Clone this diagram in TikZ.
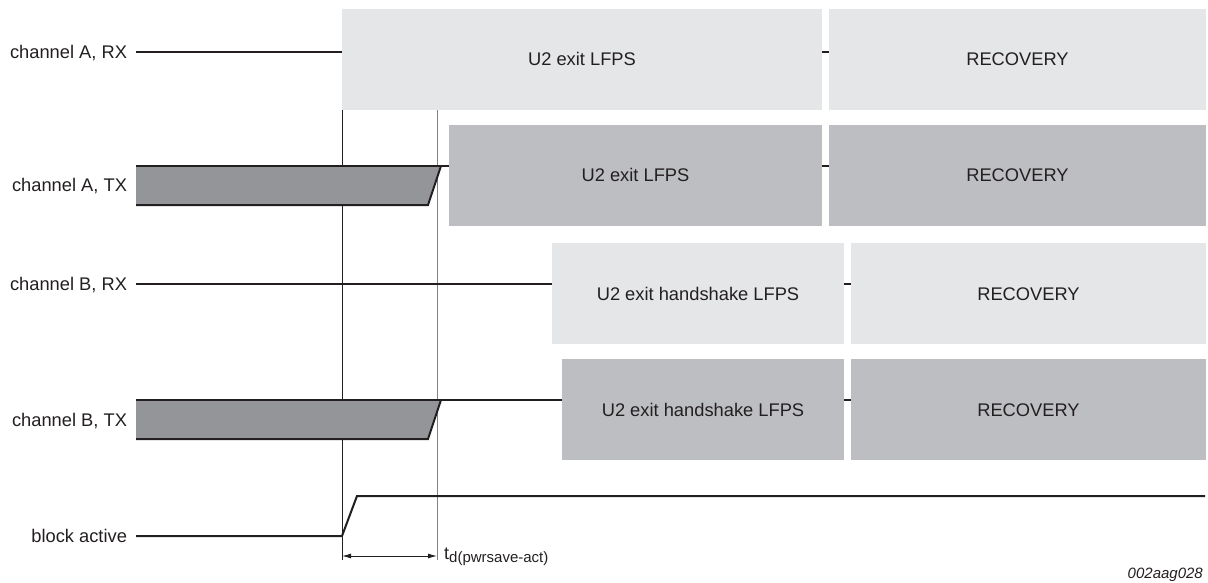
\documentclass[tikz,border=0pt]{standalone}
\usepackage{fontspec}
\setmainfont{Liberation Sans}
\usetikzlibrary{arrows.meta,calc}
\definecolor{lightbox}{HTML}{E5E6E7}
\definecolor{darkbox}{HTML}{BDBEC1}
\definecolor{trapfill}{HTML}{939598}
\definecolor{ink}{HTML}{231F20}
\definecolor{guide}{HTML}{808285}
\begin{document}
\begin{tikzpicture}[x=1pt,y=-1pt,
  >={Latex[length=9pt,width=5pt]},
  lab/.style={inner sep=0pt, outer xsep=9pt, text height=13pt, text depth=0pt, anchor=east,
    font=\fontsize{18.3}{20}\selectfont, text=ink},
  lbox/.style={fill=lightbox, inner sep=0pt, outer sep=0pt, anchor=north west, minimum height=101pt,
    text height=13pt, text depth=0pt, font=\fontsize{18.3}{20}\selectfont, text=ink},
  dbox/.style={lbox, fill=darkbox},
  sig/.style={draw=ink, line width=2pt, line join=miter},
  trap/.style={fill=trapfill},
  vline/.style={draw=ink, line width=1pt},
  gline/.style={draw=guide, line width=1pt}
]
\useasboundingbox (0,0) rectangle (1208,583);

% boxes
\node[lbox, minimum width=480pt] (ra1) at (342,9) {U2 exit LFPS};
\node[lbox, minimum width=377pt] (ra2) at (829,9) {RECOVERY};
\node[dbox, minimum width=373pt] (ta1) at (449,125) {U2 exit LFPS};
\node[dbox, minimum width=377pt] (ta2) at (829,125) {RECOVERY};
\node[lbox, minimum width=292pt] (rb1) at (552,243) {U2 exit handshake LFPS};
\node[lbox, minimum width=355pt] (rb2) at (851,243) {RECOVERY};
\node[dbox, minimum width=282pt] (tb1) at (562,359) {U2 exit handshake LFPS};
\node[dbox, minimum width=355pt] (tb2) at (851,359) {RECOVERY};

% labels
\node[lab] (la) at (136,52) {channel A, RX};
\node[lab] (lta) at (136,185.5) {channel A, TX};
\node[lab] (lb) at (136,284) {channel B, RX};
\node[lab] (ltb) at (136,419.5) {channel B, TX};
\node[lab] (lba) at (136,536) {block active};

% key coordinates
\coordinate (v1b) at (342,560);
\coordinate (v2t) at (437,110);
\coordinate (v2b) at (437,560);
\coordinate (taTop) at (136,166);
\coordinate (taBot) at (136,205);
\coordinate (tbTop) at (136,400);
\coordinate (tbBot) at (136,439);
\coordinate (baHigh) at (1205,496);
\coordinate (arL) at (342,556);
\coordinate (arR) at (437,556);

% vertical guides
\draw[vline] (ra1.south west) -- (v1b);
\draw[gline] (v2t) -- (v2b);

% channel A RX
\draw[sig] (la.east) -- (ra1.west |- la.east);
\draw[sig] (ra1.east |- la.east) -- (ra2.west |- la.east);

% channel A TX
\fill[trap] (taTop) -- (441,166) -- (428,205) -- (taBot) -- cycle;
\draw[sig] (taTop) -- (ta1.west |- taTop);
\draw[sig] (taBot) -- (428,205) -- (441,166);
\draw[sig] (ta1.east |- taTop) -- (ta2.west |- taTop);

% channel B RX
\draw[sig] (lb.east) -- (rb1.west |- lb.east);
\draw[sig] (rb1.east |- lb.east) -- (rb2.west |- lb.east);

% channel B TX
\fill[trap] (tbTop) -- (441,400) -- (428,439) -- (tbBot) -- cycle;
\draw[sig] (tbTop) -- (tb1.west |- tbTop);
\draw[sig] (tbBot) -- (428,439) -- (441,400);
\draw[sig] (tb1.east |- tbTop) -- (tb2.west |- tbTop);

% block active
\draw[sig] (lba.east) -- (342,536) -- (357,496) -- (baHigh);

% timing arrow
\draw[vline, <->] (arL) -- (arR);
\node[anchor=base west, inner sep=0pt, text=ink] (td) at (444,559)
  {\fontsize{18}{20}\selectfont t\raisebox{-3pt}{\fontsize{15}{16}\selectfont d(pwrsave-act)}};

\node[anchor=base east, inner sep=0pt, text=ink, font=\fontsize{15}{16}\selectfont\itshape] (fig) at (1203,578) {002aag028};
\end{tikzpicture}
\end{document}
